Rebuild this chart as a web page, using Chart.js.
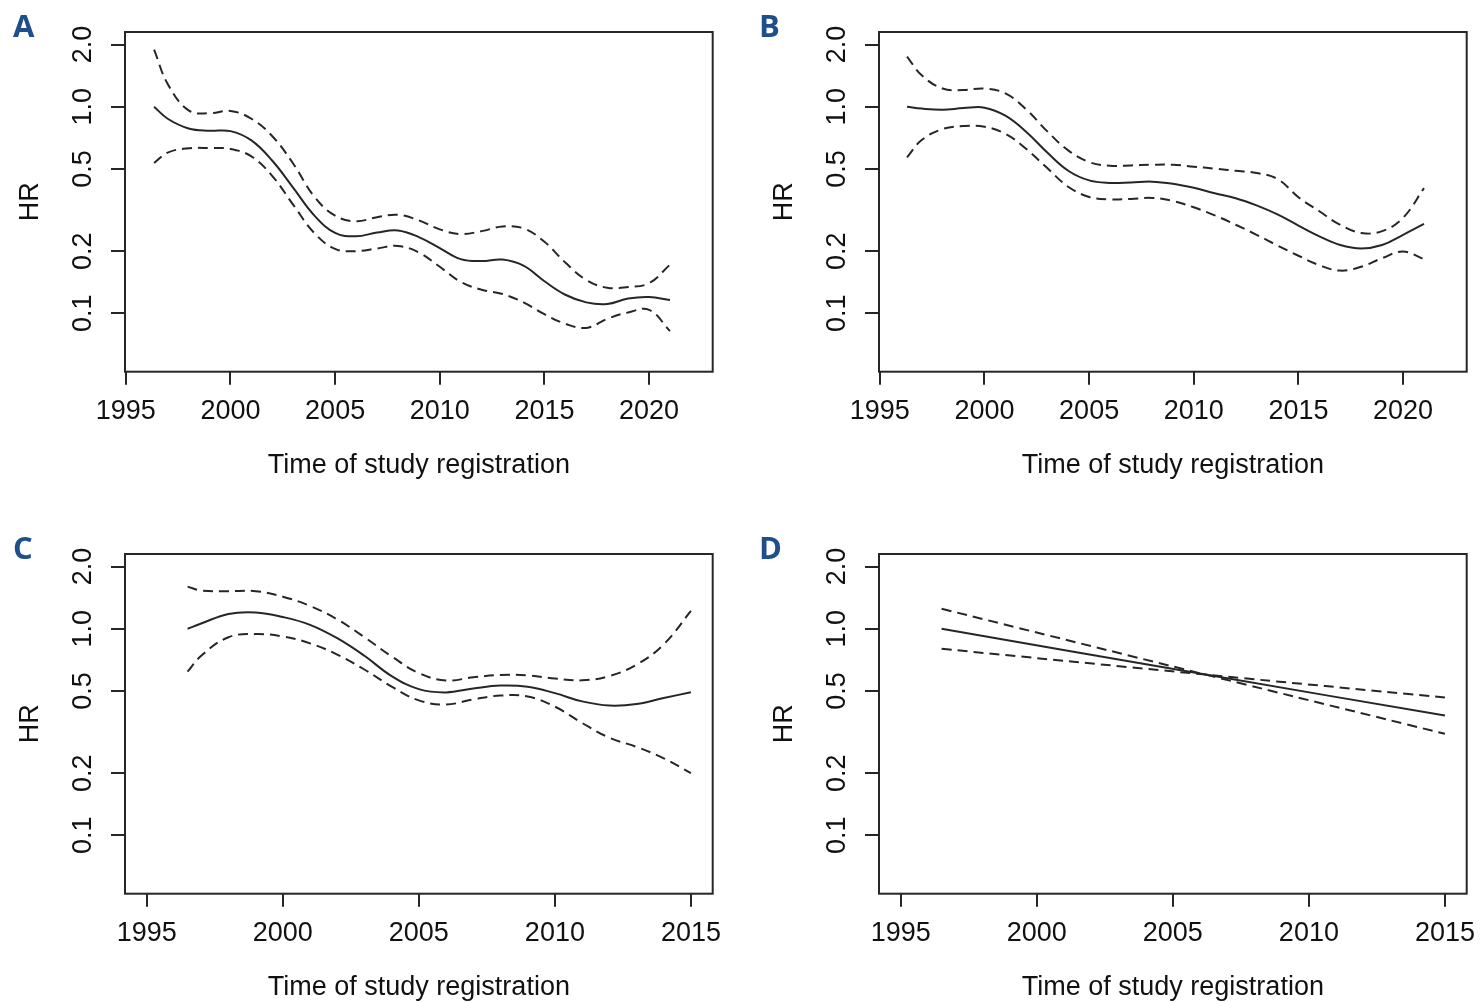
<!DOCTYPE html>
<html>
<head>
<meta charset="utf-8">
<title>HR by time of study registration</title>
<script src="https://cdn.jsdelivr.net/npm/chart.js@4.4.1/dist/chart.umd.min.js"></script>
<style>
    html, body { margin: 0; padding: 0; background: #fff; overflow: hidden; }
    #page { position: relative; width: 1480px; height: 1002px; overflow: hidden; }
    .panel { position: absolute; width: 740px; height: 480px; }
    .tag { position: absolute; font: 700 31px "Open Sans", sans-serif; line-height: 31px; color: #1f4e8c; }
</style>
</head>
<body>
<div id="page">
    <div class="panel" style="left:0;top:0"><canvas id="chartA" width="740" height="480"></canvas></div>
    <div class="panel" style="left:754px;top:0"><canvas id="chartB" width="740" height="480"></canvas></div>
    <div class="panel" style="left:0;top:522px"><canvas id="chartC" width="740" height="480"></canvas></div>
    <div class="panel" style="left:754px;top:522px"><canvas id="chartD" width="740" height="480"></canvas></div>
    <div class="tag" style="left:13px;top:10px">A</div>
    <div class="tag" style="left:759px;top:10px">B</div>
    <div class="tag" style="left:13px;top:532px">C</div>
    <div class="tag" style="left:759px;top:532px">D</div>
</div>
<script>
// ---- data (HR on log scale, dashed = 95% CI) ----
var hrTicks = [0.1, 0.2, 0.5, 1.0, 2.0];
var yearTicksAB = [1995, 2000, 2005, 2010, 2015, 2020];
var yearTicksCD = [1995, 2000, 2005, 2010, 2015];

var yearsA = [1996.35, 1997, 1998, 1999, 2000, 2001, 2002, 2003, 2004, 2005, 2006, 2007, 2008, 2009, 2010, 2011, 2012, 2013, 2014, 2015, 2016, 2017, 2018, 2019, 2020, 2021];
var hrA    = [1.00, 0.875, 0.785, 0.765, 0.762, 0.687, 0.548, 0.405, 0.298, 0.245, 0.236, 0.246, 0.252, 0.234, 0.207, 0.183, 0.179, 0.182, 0.170, 0.143, 0.123, 0.113, 0.111, 0.118, 0.120, 0.116];
var upperA = [1.89, 1.29, 0.96, 0.93, 0.955, 0.875, 0.72, 0.53, 0.368, 0.297, 0.279, 0.292, 0.300, 0.282, 0.255, 0.242, 0.250, 0.263, 0.258, 0.222, 0.176, 0.145, 0.133, 0.134, 0.140, 0.172];
var lowerA = [0.534, 0.60, 0.630, 0.631, 0.625, 0.575, 0.462, 0.335, 0.245, 0.205, 0.200, 0.206, 0.212, 0.197, 0.168, 0.142, 0.130, 0.124, 0.113, 0.099, 0.089, 0.085, 0.094, 0.101, 0.104, 0.082];

var yearsB = [1996.3, 1997, 1998, 1999, 2000, 2001, 2002, 2003, 2004, 2005, 2006, 2007, 2008, 2009, 2010, 2011, 2012, 2013, 2014, 2015, 2016, 2017, 2018, 2019, 2020, 2021];
var hrB    = [1.00, 0.98, 0.968, 0.985, 0.99, 0.905, 0.755, 0.60, 0.49, 0.44, 0.428, 0.43, 0.434, 0.424, 0.405, 0.381, 0.361, 0.333, 0.301, 0.266, 0.236, 0.214, 0.206, 0.214, 0.240, 0.271];
var upperB = [1.75, 1.42, 1.225, 1.205, 1.225, 1.16, 0.97, 0.76, 0.615, 0.54, 0.518, 0.52, 0.524, 0.524, 0.513, 0.502, 0.49, 0.478, 0.447, 0.365, 0.312, 0.268, 0.245, 0.25, 0.29, 0.404];
var lowerB = [0.569, 0.69, 0.78, 0.806, 0.80, 0.74, 0.624, 0.505, 0.41, 0.366, 0.356, 0.358, 0.362, 0.35, 0.326, 0.298, 0.2685, 0.24, 0.213, 0.19, 0.171, 0.161, 0.168, 0.185, 0.199, 0.183];

var yearsC = [1996.5, 1997, 1998, 1999, 2000, 2001, 2002, 2003, 2004, 2005, 2006, 2007, 2008, 2009, 2010, 2011, 2012, 2013, 2014, 2015];
var hrC    = [1.00, 1.06, 1.18, 1.20, 1.14, 1.045, 0.90, 0.74, 0.59, 0.51, 0.492, 0.514, 0.531, 0.524, 0.488, 0.445, 0.425, 0.432, 0.462, 0.493];
var upperC = [1.60, 1.53, 1.52, 1.52, 1.43, 1.29, 1.11, 0.91, 0.735, 0.61, 0.562, 0.582, 0.598, 0.595, 0.574, 0.563, 0.59, 0.67, 0.84, 1.22];
var lowerC = [0.62, 0.74, 0.91, 0.942, 0.918, 0.85, 0.75, 0.635, 0.525, 0.45, 0.43, 0.455, 0.475, 0.47, 0.42, 0.35, 0.297, 0.268, 0.236, 0.20];

var yearsD = [1996.5, 2006.2, 2015];
var hrD    = [1.00, 0.60, 0.38];
var upperD = [1.25, 0.60, 0.31];
var lowerD = [0.80, 0.60, 0.465];

// ---- plotting ----
var INK = '#262626';
var FONT = 'Liberation Sans, Arial, Helvetica, sans-serif';

var boxPlugin = {
    id: 'rbox',
    afterDraw: function(c) {
        var a = c.chartArea, ctx = c.ctx;
        ctx.save();
        ctx.strokeStyle = INK;
        ctx.lineWidth = 2;
        ctx.strokeRect(a.left, a.top, a.right - a.left, a.bottom - a.top);
        ctx.restore();
    }
};

function series(years, vals, dashed) {
    return {
        data: years.map(function(x, i) { return { x: x, y: vals[i] }; }),
        borderColor: INK,
        borderWidth: 2,
        borderDash: dashed ? [10, 6] : [],
        pointRadius: 0,
        fill: false,
        tension: 0.4
    };
}

function makePanel(id, years, hr, up, lo, xMin, xMax, xTicks) {
    var tickGrid = { drawOnChartArea: false, drawTicks: true, tickWidth: 2, tickColor: INK, color: INK, lineWidth: 2 };
    return new Chart(document.getElementById(id), {
        type: 'line',
        data: { datasets: [series(years, up, true), series(years, lo, true), series(years, hr, false)] },
        options: {
            responsive: false, animation: false, devicePixelRatio: 1, events: [],
            layout: { padding: { left: 0, top: 32, right: 27.3, bottom: 0 } },
            plugins: { legend: { display: false }, tooltip: { enabled: false } },
            scales: {
                x: {
                    type: 'linear', min: xMin, max: xMax, bounds: 'data',
                    afterBuildTicks: function(s) { s.ticks = xTicks.map(function(v) { return { value: v }; }); },
                    afterFit: function(s) { s.height = 108.3; },
                    grid: Object.assign({ tickLength: 13 }, tickGrid),
                    border: { display: false },
                    ticks: { autoSkip: false, maxRotation: 0, padding: 11, color: '#111', font: { family: FONT, size: 27 },
                             callback: function(v) { return String(v); } },
                    title: { display: true, text: 'Time of study registration', color: '#111', font: { family: FONT, size: 27 }, padding: { top: 0, bottom: -2 } }
                },
                y: {
                    type: 'logarithmic', min: 0.05217, max: 2.301, bounds: 'data',
                    afterBuildTicks: function(s) { s.ticks = hrTicks.map(function(v) { return { value: v }; }); },
                    afterFit: function(s) { s.width = 125; },
                    grid: Object.assign({ tickLength: 14 }, tickGrid),
                    border: { display: false },
                    ticks: { autoSkip: false, minRotation: 90, maxRotation: 90, crossAlign: 'center', padding: 9, color: '#111',
                             font: { family: FONT, size: 27 }, callback: function(v) { return Number(v).toFixed(1); } },
                    title: { display: true, text: 'HR', color: '#111', font: { family: FONT, size: 27 }, padding: { top: 14, bottom: 0 } }
                }
            }
        },
        plugins: [boxPlugin]
    });
}

makePanel('chartA', yearsA, hrA, upperA, lowerA, 1994.96, 2023.04, yearTicksAB);
makePanel('chartB', yearsB, hrB, upperB, lowerB, 1994.96, 2023.04, yearTicksAB);
makePanel('chartC', yearsC, hrC, upperC, lowerC, 1994.2, 2015.8, yearTicksCD);
makePanel('chartD', yearsD, hrD, upperD, lowerD, 1994.2, 2015.8, yearTicksCD);
</script>
</body>
</html>
